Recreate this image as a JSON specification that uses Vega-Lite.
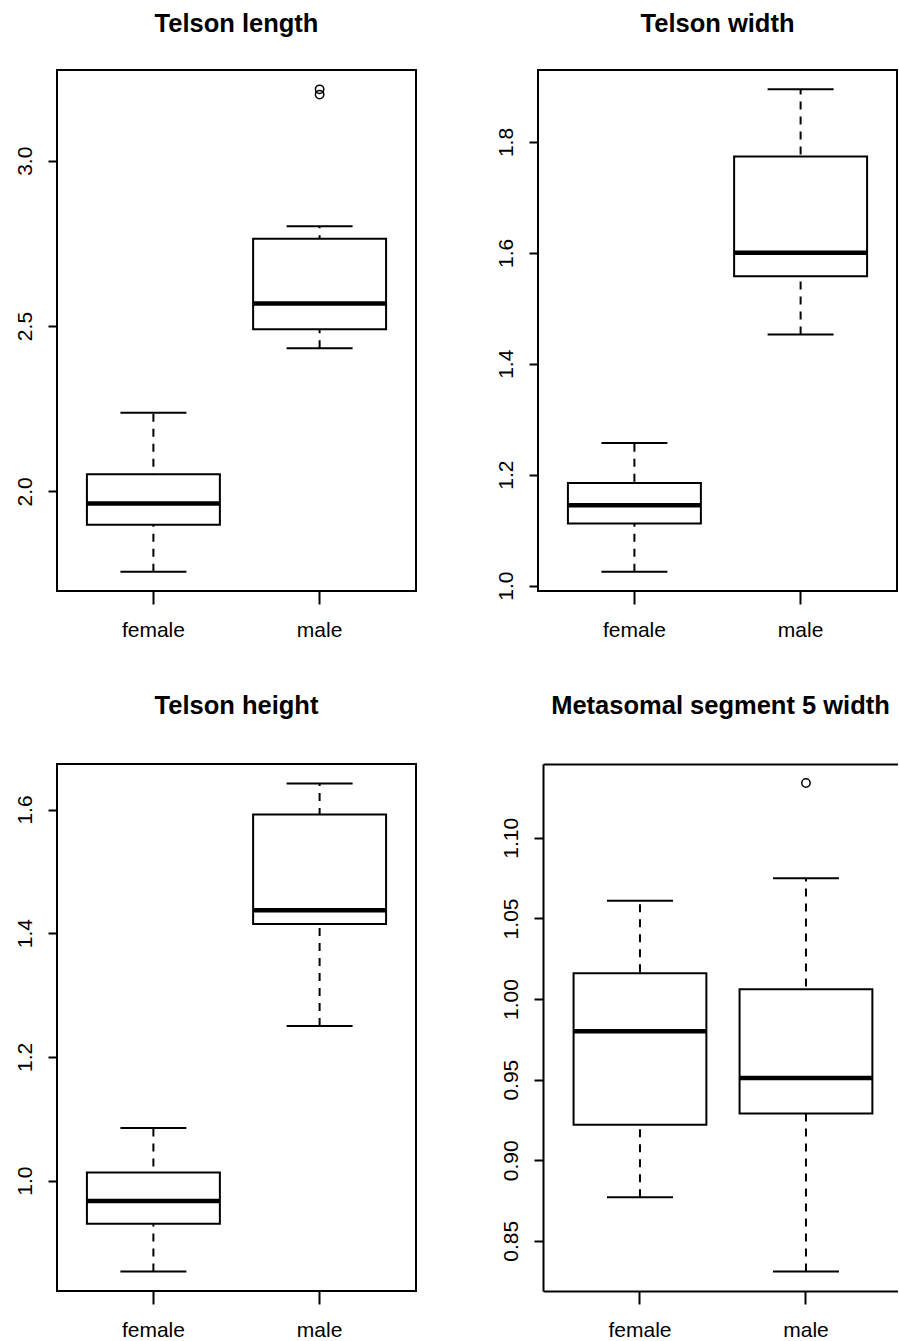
{
  "$schema": "https://vega.github.io/schema/vega-lite/v6.json",
  "background": "white",
  "padding": {"left": 12, "top": 10, "right": 0, "bottom": 0},
  "datasets": {
    "stats": [
      {"panel": "Telson length", "sex": "female", "lo": 1.757, "q1": 1.899, "med": 1.963, "q3": 2.052, "hi": 2.238},
      {"panel": "Telson length", "sex": "male", "lo": 2.433, "q1": 2.490, "med": 2.568, "q3": 2.764, "hi": 2.802},
      {"panel": "Telson width", "sex": "female", "lo": 1.025, "q1": 1.112, "med": 1.145, "q3": 1.185, "hi": 1.257},
      {"panel": "Telson width", "sex": "male", "lo": 1.453, "q1": 1.558, "med": 1.600, "q3": 1.774, "hi": 1.895},
      {"panel": "Telson height", "sex": "female", "lo": 0.853, "q1": 0.930, "med": 0.967, "q3": 1.013, "hi": 1.085},
      {"panel": "Telson height", "sex": "male", "lo": 1.250, "q1": 1.415, "med": 1.437, "q3": 1.592, "hi": 1.642},
      {"panel": "Metasomal segment 5 width", "sex": "female", "lo": 0.877, "q1": 0.922, "med": 0.980, "q3": 1.016, "hi": 1.061},
      {"panel": "Metasomal segment 5 width", "sex": "male", "lo": 0.831, "q1": 0.929, "med": 0.951, "q3": 1.006, "hi": 1.075}
    ],
    "outliers": [
      {"panel": "Telson length", "sex": "male", "value": 3.216},
      {"panel": "Telson length", "sex": "male", "value": 3.200},
      {"panel": "Metasomal segment 5 width", "sex": "male", "value": 1.134}
    ]
  },
  "config": {
    "font": "Liberation Sans",
    "view": {"stroke": "black", "strokeWidth": 2},
    "title": {"font": "Liberation Sans", "fontSize": 25.5, "fontWeight": "bold", "color": "black", "anchor": "middle"},
    "axis": {"grid": false, "title": null, "labelFont": "Liberation Sans", "labelFontSize": 21, "labelColor": "black", "tickColor": "black", "tickWidth": 2, "domainColor": "black", "domainWidth": 2},
    "axisX": {"labelAngle": 0, "tickSize": 13, "labelPadding": 15, "domain": false},
    "axisY": {"labelAngle": 270, "tickSize": 9, "labelPadding": 13, "domain": false}
  },
  "spacing": 51,
  "vconcat": [
    {
      "spacing": 122,
      "bounds": "flush",
      "hconcat": [
        {
          "width": 359, "height": 521,
          "title": {"text": "Telson length", "offset": 33},
          "layer": [
            {"data": {"name": "stats"}, "transform": [{"filter": "datum.panel == 'Telson length'"}],
             "mark": {"type": "rule", "color": "black", "strokeWidth": 2, "strokeDash": [8, 7]},
             "encoding": {
               "x": {"field": "sex", "type": "nominal", "scale": {"domain": ["female", "male"], "paddingInner": 0.2, "paddingOuter": 0.18}},
               "y": {"field": "lo", "type": "quantitative", "scale": {"domain": [1.6986, 3.2744], "nice": false, "zero": false}, "axis": {"values": [2.0, 2.5, 3.0], "format": ".1f"}},
               "y2": {"field": "hi"}}},
            {"data": {"name": "stats"}, "transform": [{"filter": "datum.panel == 'Telson length'"}],
             "mark": {"type": "bar", "fill": "white", "stroke": "black", "strokeWidth": 2},
             "encoding": {"x": {"field": "sex", "type": "nominal"}, "y": {"field": "q1", "type": "quantitative"}, "y2": {"field": "q3"}}},
            {"data": {"name": "stats"}, "transform": [{"filter": "datum.panel == 'Telson length'"}],
             "mark": {"type": "tick", "color": "black", "size": 66, "thickness": 2, "opacity": 1},
             "encoding": {"x": {"field": "sex", "type": "nominal"}, "y": {"field": "lo", "type": "quantitative"}}},
            {"data": {"name": "stats"}, "transform": [{"filter": "datum.panel == 'Telson length'"}],
             "mark": {"type": "tick", "color": "black", "size": 66, "thickness": 2, "opacity": 1},
             "encoding": {"x": {"field": "sex", "type": "nominal"}, "y": {"field": "hi", "type": "quantitative"}}},
            {"data": {"name": "stats"}, "transform": [{"filter": "datum.panel == 'Telson length'"}],
             "mark": {"type": "tick", "color": "black", "size": 133, "thickness": 4.5, "opacity": 1},
             "encoding": {"x": {"field": "sex", "type": "nominal"}, "y": {"field": "med", "type": "quantitative"}}},
            {"data": {"name": "outliers"}, "transform": [{"filter": "datum.panel == 'Telson length'"}],
             "mark": {"type": "point", "shape": "circle", "filled": false, "stroke": "black", "strokeWidth": 1.5, "size": 70, "opacity": 1},
             "encoding": {"x": {"field": "sex", "type": "nominal"}, "y": {"field": "value", "type": "quantitative"}}}
          ]
        },
        {
          "width": 359, "height": 521,
          "title": {"text": "Telson width", "offset": 33},
          "layer": [
            {"data": {"name": "stats"}, "transform": [{"filter": "datum.panel == 'Telson width'"}],
             "mark": {"type": "rule", "color": "black", "strokeWidth": 2, "strokeDash": [8, 7]},
             "encoding": {
               "x": {"field": "sex", "type": "nominal", "scale": {"domain": ["female", "male"], "paddingInner": 0.2, "paddingOuter": 0.18}},
               "y": {"field": "lo", "type": "quantitative", "scale": {"domain": [0.9902, 1.9298], "nice": false, "zero": false}, "axis": {"values": [1.0, 1.2, 1.4, 1.6, 1.8], "format": ".1f"}},
               "y2": {"field": "hi"}}},
            {"data": {"name": "stats"}, "transform": [{"filter": "datum.panel == 'Telson width'"}],
             "mark": {"type": "bar", "fill": "white", "stroke": "black", "strokeWidth": 2},
             "encoding": {"x": {"field": "sex", "type": "nominal"}, "y": {"field": "q1", "type": "quantitative"}, "y2": {"field": "q3"}}},
            {"data": {"name": "stats"}, "transform": [{"filter": "datum.panel == 'Telson width'"}],
             "mark": {"type": "tick", "color": "black", "size": 66, "thickness": 2, "opacity": 1},
             "encoding": {"x": {"field": "sex", "type": "nominal"}, "y": {"field": "lo", "type": "quantitative"}}},
            {"data": {"name": "stats"}, "transform": [{"filter": "datum.panel == 'Telson width'"}],
             "mark": {"type": "tick", "color": "black", "size": 66, "thickness": 2, "opacity": 1},
             "encoding": {"x": {"field": "sex", "type": "nominal"}, "y": {"field": "hi", "type": "quantitative"}}},
            {"data": {"name": "stats"}, "transform": [{"filter": "datum.panel == 'Telson width'"}],
             "mark": {"type": "tick", "color": "black", "size": 133, "thickness": 4.5, "opacity": 1},
             "encoding": {"x": {"field": "sex", "type": "nominal"}, "y": {"field": "med", "type": "quantitative"}}}
          ]
        }
      ]
    },
    {
      "spacing": 127,
      "bounds": "flush",
      "hconcat": [
        {
          "width": 359, "height": 527,
          "title": {"text": "Telson height", "offset": 45},
          "layer": [
            {"data": {"name": "stats"}, "transform": [{"filter": "datum.panel == 'Telson height'"}],
             "mark": {"type": "rule", "color": "black", "strokeWidth": 2, "strokeDash": [8, 7]},
             "encoding": {
               "x": {"field": "sex", "type": "nominal", "scale": {"domain": ["female", "male"], "paddingInner": 0.2, "paddingOuter": 0.18}},
               "y": {"field": "lo", "type": "quantitative", "scale": {"domain": [0.8214, 1.6736], "nice": false, "zero": false}, "axis": {"values": [1.0, 1.2, 1.4, 1.6], "format": ".1f"}},
               "y2": {"field": "hi"}}},
            {"data": {"name": "stats"}, "transform": [{"filter": "datum.panel == 'Telson height'"}],
             "mark": {"type": "bar", "fill": "white", "stroke": "black", "strokeWidth": 2},
             "encoding": {"x": {"field": "sex", "type": "nominal"}, "y": {"field": "q1", "type": "quantitative"}, "y2": {"field": "q3"}}},
            {"data": {"name": "stats"}, "transform": [{"filter": "datum.panel == 'Telson height'"}],
             "mark": {"type": "tick", "color": "black", "size": 66, "thickness": 2, "opacity": 1},
             "encoding": {"x": {"field": "sex", "type": "nominal"}, "y": {"field": "lo", "type": "quantitative"}}},
            {"data": {"name": "stats"}, "transform": [{"filter": "datum.panel == 'Telson height'"}],
             "mark": {"type": "tick", "color": "black", "size": 66, "thickness": 2, "opacity": 1},
             "encoding": {"x": {"field": "sex", "type": "nominal"}, "y": {"field": "hi", "type": "quantitative"}}},
            {"data": {"name": "stats"}, "transform": [{"filter": "datum.panel == 'Telson height'"}],
             "mark": {"type": "tick", "color": "black", "size": 133, "thickness": 4.5, "opacity": 1},
             "encoding": {"x": {"field": "sex", "type": "nominal"}, "y": {"field": "med", "type": "quantitative"}}}
          ]
        },
        {
          "width": 355, "height": 527,
          "view": {"stroke": null},
          "title": {"text": "Metasomal segment 5 width", "offset": 45},
          "resolve": {"axis": {"x": "independent"}},
          "layer": [
            {"data": {"name": "stats"}, "transform": [{"filter": "datum.panel == 'Metasomal segment 5 width'"}],
             "mark": {"type": "rule", "color": "black", "strokeWidth": 2, "strokeDash": [8, 7]},
             "encoding": {
               "x": {"field": "sex", "type": "nominal", "scale": {"domain": ["female", "male"], "paddingInner": 0.2, "paddingOuter": 0.1693, "align": 0.544}, "axis": {"orient": "bottom", "domain": true}},
               "y": {"field": "lo", "type": "quantitative", "scale": {"domain": [0.8189, 1.1458], "nice": false, "zero": false}, "axis": {"values": [0.85, 0.9, 0.95, 1.0, 1.05, 1.1], "format": ".2f", "domain": true}},
               "y2": {"field": "hi"}}},
            {"data": {"name": "stats"}, "transform": [{"filter": "datum.panel == 'Metasomal segment 5 width'"}],
             "mark": {"type": "bar", "fill": "white", "stroke": "black", "strokeWidth": 2},
             "encoding": {"x": {"field": "sex", "type": "nominal", "axis": {"orient": "top", "labels": false, "ticks": false, "domain": true}}, "y": {"field": "q1", "type": "quantitative"}, "y2": {"field": "q3"}}},
            {"data": {"name": "stats"}, "transform": [{"filter": "datum.panel == 'Metasomal segment 5 width'"}],
             "mark": {"type": "tick", "color": "black", "size": 66, "thickness": 2, "opacity": 1},
             "encoding": {"x": {"field": "sex", "type": "nominal", "axis": null}, "y": {"field": "lo", "type": "quantitative"}}},
            {"data": {"name": "stats"}, "transform": [{"filter": "datum.panel == 'Metasomal segment 5 width'"}],
             "mark": {"type": "tick", "color": "black", "size": 66, "thickness": 2, "opacity": 1},
             "encoding": {"x": {"field": "sex", "type": "nominal", "axis": null}, "y": {"field": "hi", "type": "quantitative"}}},
            {"data": {"name": "stats"}, "transform": [{"filter": "datum.panel == 'Metasomal segment 5 width'"}],
             "mark": {"type": "tick", "color": "black", "size": 133, "thickness": 4.5, "opacity": 1},
             "encoding": {"x": {"field": "sex", "type": "nominal", "axis": null}, "y": {"field": "med", "type": "quantitative"}}},
            {"data": {"name": "outliers"}, "transform": [{"filter": "datum.panel == 'Metasomal segment 5 width'"}],
             "mark": {"type": "point", "shape": "circle", "filled": false, "stroke": "black", "strokeWidth": 1.5, "size": 70, "opacity": 1},
             "encoding": {"x": {"field": "sex", "type": "nominal", "axis": null}, "y": {"field": "value", "type": "quantitative"}}}
          ]
        }
      ]
    }
  ]
}
